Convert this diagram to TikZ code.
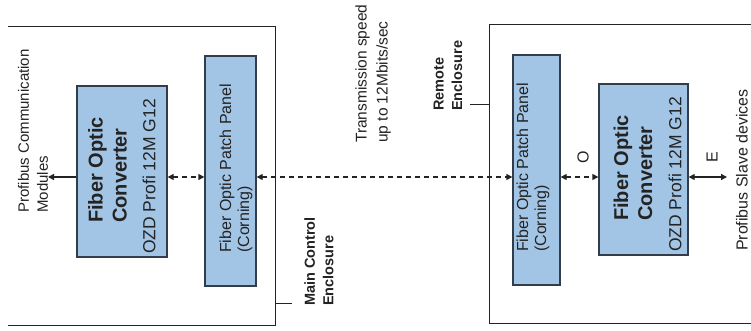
\documentclass[tikz,border=0pt]{standalone}
\usepackage{fontspec}
\setmainfont{Liberation Sans}
\usetikzlibrary{arrows.meta}
\definecolor{boxfill}{RGB}{163,197,229}
\definecolor{boxline}{RGB}{50,60,75}
\definecolor{ink}{RGB}{35,35,35}
\begin{document}
\begin{tikzpicture}[x=1pt,y=-1pt,
  box/.style={draw=boxline,fill=boxfill,line width=1.3pt,inner sep=0pt},
  encl/.style={draw=ink,line width=1pt},
  lbl/.style={rotate=90,text=ink,inner sep=0pt,align=left,font=\fontsize{16}{18}\selectfont},
  bl/.style={rotate=90,text=ink,inner sep=0pt,align=left,font=\fontsize{14.5}{18.5}\selectfont\bfseries},
  ttl/.style={rotate=90,text=ink,inner sep=0pt,align=left,font=\fontsize{20}{24}\selectfont\bfseries},
  ozd/.style={rotate=90,text=ink,inner sep=0pt,font=\fontsize{17.5}{20}\selectfont},
  tip/.style={-{Triangle[length=6pt,width=6pt]}},
  both/.style={{Triangle[length=6pt,width=6pt]}-{Triangle[length=6pt,width=6pt]}},
  dsh/.style={dash pattern=on 5pt off 4pt},
  conn/.style={draw=ink,line width=1.3pt}]
\useasboundingbox (0,0) rectangle (751,331);
\fill[white] (0,0) rectangle (751,331);
% enclosures
\draw[encl] (8,27) -- (275,27) -- (275,325) -- (8,325);
\draw[encl] (751,25) -- (489,25) -- (489,323) -- (751,323);
\coordinate (mtick) at (292,303);
\coordinate (rtick) at (470,105);
\draw[encl] (275,303) -- (mtick);
\draw[encl] (489,105) -- (rtick);
% boxes
\node[box,minimum width=90pt,minimum height=171pt] (convL) at (122,171.5) {};
\node[box,minimum width=51pt,minimum height=230pt] (patchL) at (230.5,171) {};
\node[box,minimum width=47pt,minimum height=230pt] (patchR) at (536.5,170) {};
\node[box,minimum width=89pt,minimum height=171pt] (convR) at (643.5,169.5) {};
% texts
\node[ttl,anchor=west] (tL) at (107.5,223) {Fiber Optic\\Converter};
\node[ozd,anchor=west] (oL) at (149,254) {OZD Profi 12M G12};
\node[lbl,anchor=west] (pL) at (236,253) {Fiber Optic Patch Panel\\(Corning)};
\node[lbl,anchor=west] (pR) at (533,252) {Fiber Optic Patch Panel\\(Corning)};
\node[ttl,anchor=west] (tR) at (633,221) {Fiber Optic\\Converter};
\node[ozd,anchor=west] (oR) at (675,252) {OZD Profi 12M G12};
\node[lbl,anchor=west,font=\fontsize{15}{19}\selectfont] (pcmT) at (33,213) {Profibus Communication\\Modules};
\node[bl,anchor=west] (mce) at (319,306) {Main Control\\Enclosure};
\node[bl,anchor=west] (re) at (448,111) {Remote\\Enclosure};
\node[lbl,anchor=west,font=\fontsize{15.5}{21}\selectfont] (ts) at (373,143) {Transmission speed\\up to 12Mbits/sec};
\node[lbl] (olab) at (583,157) {O};
\node[lbl] (elab) at (712,157) {E};
\node[lbl] (psd) at (742,170) {Profibus Slave devices};
% connectors
\coordinate (lev) at (0,177);
\coordinate (pcm) at (48,177);
\coordinate (sd) at (727,177);
\draw[conn,tip] (convL.west |- lev) -- (pcm);
\draw[conn,dsh,both] (convL.east |- lev) -- (patchL.west |- lev);
\draw[conn,dsh,both] (patchL.east |- lev) -- (patchR.west |- lev);
\draw[conn,dsh,both] (patchR.east |- lev) -- (convR.west |- lev);
\draw[conn,both] (convR.east |- lev) -- (sd);
\end{tikzpicture}
\end{document}
